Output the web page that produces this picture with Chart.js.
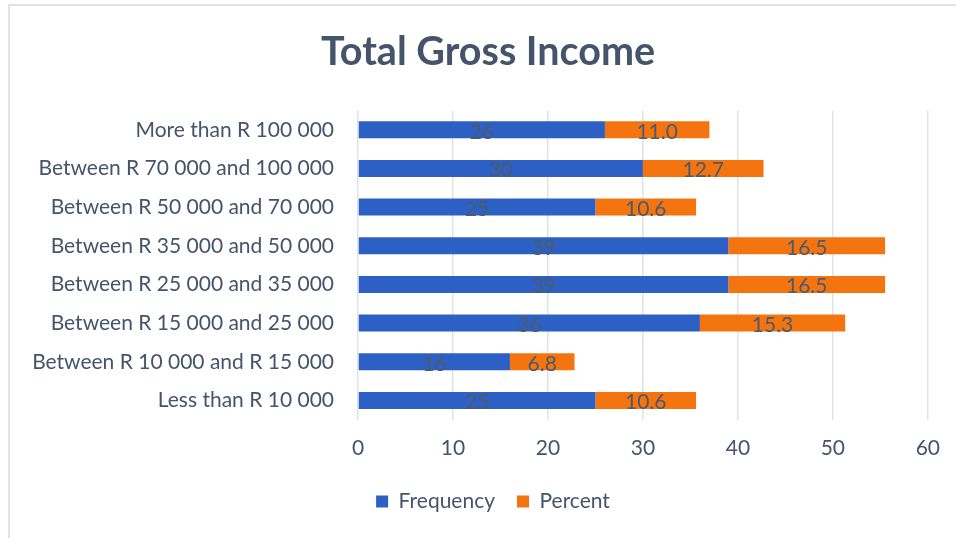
<!DOCTYPE html>
<html>
<head>
<meta charset="utf-8">
<script src="https://cdn.jsdelivr.net/npm/chart.js@4.4.1/dist/chart.umd.min.js"></script>
<style>
    html, body { margin: 0; padding: 0; background: #fff; }
    #wrap { position: relative; width: 956px; height: 538px; }
    #frame { position: absolute; left: 8px; top: 4px; right: 0; bottom: 0;
             border-left: 2px solid #dfe2e7; border-top: 2px solid #dfe2e7; }
    #incomeChart { position: absolute; left: 0; top: 0; }
</style>
</head>
<body>
<div id="wrap">
    <div id="frame"></div>
    <canvas id="incomeChart" width="956" height="538"></canvas>
</div>
<script>
const incomeBands = [
    'More than R 100 000',
    'Between R 70 000 and 100 000',
    'Between R 50 000 and 70 000',
    'Between R 35 000 and 50 000',
    'Between R 25 000 and 35 000',
    'Between R 15 000 and 25 000',
    'Between R 10 000 and R 15 000',
    'Less than R 10 000',
];
const frequency = [26, 30, 25, 39, 39, 36, 16, 25];
const percent = [11.0, 12.7, 10.6, 16.5, 16.5, 15.3, 6.8, 10.6];
const xTicks = [0, 10, 20, 30, 40, 50, 60];

const textColor = '#44546a';
const fontFamily = 'Lato, "Open Sans", sans-serif';

// draws the value in the middle of each bar segment
const segmentLabels = {
    id: 'segmentLabels',
    afterDatasetsDraw(chart) {
        const ctx = chart.ctx;
        ctx.save();
        ctx.font = '21px ' + fontFamily;
        ctx.fillStyle = '#4d5a6b';
        ctx.textAlign = 'center';
        ctx.textBaseline = 'middle';
        chart.data.datasets.forEach((ds, di) => {
            const meta = chart.getDatasetMeta(di);
            meta.data.forEach((bar, i) => {
                const v = ds.data[i];
                const txt = di === 0 ? String(v) : v.toFixed(1);
                ctx.fillText(txt, (bar.x + bar.base) / 2, bar.y + 2);
            });
        });
        ctx.restore();
    }
};

// title and legend sit a bit right of the canvas centre in the original
const shiftBlocks = {
    id: 'shiftBlocks',
    afterLayout(chart) {
        if (chart.titleBlock) chart.titleBlock.left += 48;
        if (chart.legend) chart.legend.left += 58;
    }
};

Chart.defaults.font.family = fontFamily;
Chart.defaults.color = textColor;

new Chart(document.getElementById('incomeChart'), {
    type: 'bar',
    data: {
        labels: incomeBands,
        datasets: [
            {
                label: 'Frequency',
                data: frequency,
                backgroundColor: '#2c60c4',
                categoryPercentage: 1,
                barPercentage: 0.44,
            },
            {
                label: 'Percent',
                data: percent,
                backgroundColor: '#f4740f',
                categoryPercentage: 1,
                barPercentage: 0.44,
            },
        ]
    },
    options: {
        indexAxis: 'y',
        responsive: false,
        animation: false,
        layout: {
            padding: { left: 0, right: 28, top: 0, bottom: 16 }
        },
        scales: {
            x: {
                stacked: true,
                min: 0,
                max: 60,
                afterBuildTicks(axis) {
                    axis.ticks = xTicks.map(v => ({ value: v }));
                },
                grid: { color: '#dfe3e8', lineWidth: 1.5, drawTicks: false },
                border: { display: false },
                ticks: { padding: 16, font: { size: 21 }, color: textColor },
                afterFit(axis) { axis.height -= 8; },
            },
            y: {
                stacked: true,
                grid: { display: false, drawTicks: false },
                border: { display: false },
                ticks: { padding: 24, font: { size: 21 }, color: textColor },
                afterFit(axis) { axis.width = 358; },
            }
        },
        plugins: {
            title: {
                display: true,
                text: 'Total Gross Income',
                color: textColor,
                font: { size: 39.5, weight: 'bold' },
                padding: { top: 29, bottom: 34 }
            },
            legend: {
                position: 'bottom',
                labels: {
                    boxWidth: 12,
                    boxHeight: 12,
                    padding: 22,
                    font: { size: 21 },
                    color: textColor,
                }
            },
            tooltip: { enabled: false }
        }
    },
    plugins: [segmentLabels, shiftBlocks]
});
</script>
</body>
</html>
